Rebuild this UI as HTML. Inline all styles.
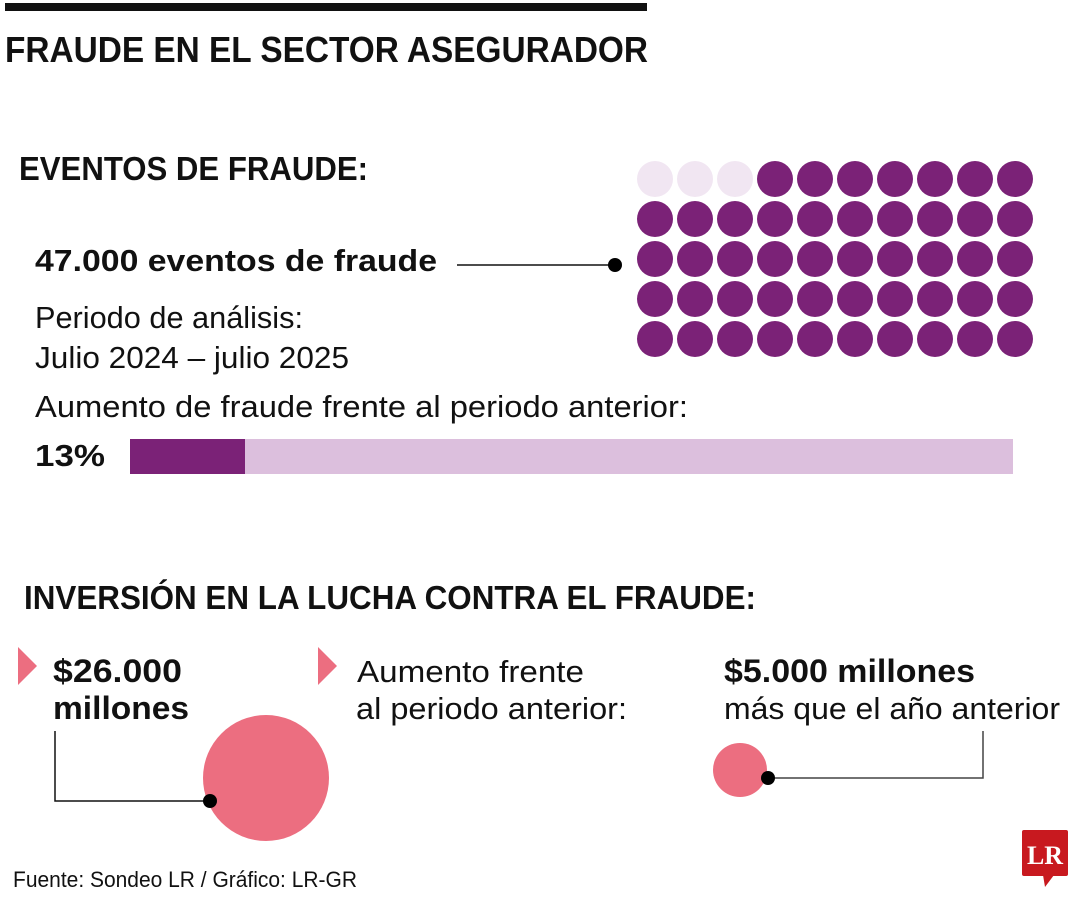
<!DOCTYPE html>
<html><head><meta charset="utf-8"><style>
html,body{margin:0;padding:0;background:#fff;width:1080px;height:900px;overflow:hidden}
svg{display:block}
text{font-family:"Liberation Sans",sans-serif;fill:#111}
.b{font-weight:bold}
</style></head><body>
<svg width="1080" height="900" viewBox="0 0 1080 900">
<rect x="5" y="3" width="642" height="8" fill="#111"/>
<text class="b" x="5" y="62" font-size="36" textLength="643" lengthAdjust="spacingAndGlyphs">FRAUDE EN EL SECTOR ASEGURADOR</text>
<text class="b" x="19" y="180" font-size="33" textLength="349" lengthAdjust="spacingAndGlyphs">EVENTOS DE FRAUDE:</text>
<text class="b" x="35" y="271" font-size="31" textLength="402" lengthAdjust="spacingAndGlyphs">47.000 eventos de fraude</text>
<line x1="457" y1="265" x2="615" y2="265" stroke="#111" stroke-width="1.5"/>
<circle cx="615" cy="265" r="7" fill="#000"/>
<text x="35" y="328" font-size="31" textLength="268" lengthAdjust="spacingAndGlyphs">Periodo de análisis:</text>
<text x="35" y="368" font-size="31" textLength="314" lengthAdjust="spacingAndGlyphs">Julio 2024 – julio 2025</text>
<text x="35" y="417" font-size="31" textLength="653" lengthAdjust="spacingAndGlyphs">Aumento de fraude frente al periodo anterior:</text>
<text class="b" x="35" y="466" font-size="31" textLength="70" lengthAdjust="spacingAndGlyphs">13%</text>
<rect x="130" y="439" width="115" height="35" fill="#7b2277"/>
<rect x="245" y="439" width="768" height="35" fill="#dcbfdd"/>
<g id="dots"></g>
<text class="b" x="24" y="609" font-size="33" textLength="732" lengthAdjust="spacingAndGlyphs">INVERSIÓN EN LA LUCHA CONTRA EL FRAUDE:</text>
<polygon points="18,647 37,666 18,685" fill="#ec6e80"/>
<polygon points="318,647 337,666 318,685" fill="#ec6e80"/>
<text class="b" x="53" y="682" font-size="32" textLength="129" lengthAdjust="spacingAndGlyphs">$26.000</text>
<text class="b" x="53" y="719" font-size="32" textLength="136" lengthAdjust="spacingAndGlyphs">millones</text>
<text x="357" y="682" font-size="31" textLength="227" lengthAdjust="spacingAndGlyphs">Aumento frente</text>
<text x="356" y="719" font-size="31" textLength="271" lengthAdjust="spacingAndGlyphs">al periodo anterior:</text>
<text class="b" x="724" y="682" font-size="32" textLength="251" lengthAdjust="spacingAndGlyphs">$5.000 millones</text>
<text x="724" y="719" font-size="31" textLength="336" lengthAdjust="spacingAndGlyphs">más que el año anterior</text>
<circle cx="266" cy="778" r="63" fill="#ec6e80"/>
<polyline points="55,731 55,801 210,801" fill="none" stroke="#111" stroke-width="1.5"/>
<circle cx="210" cy="801" r="7" fill="#000"/>
<circle cx="740" cy="770" r="27" fill="#ec6e80"/>
<polyline points="768,778 983,778 983,731" fill="none" stroke="#444" stroke-width="1.5"/>
<circle cx="768" cy="778" r="7" fill="#000"/>
<text x="13" y="887" font-size="22" fill="#222" textLength="344" lengthAdjust="spacingAndGlyphs">Fuente: Sondeo LR / Gráfico: LR-GR</text>
<rect x="1022" y="830" width="46" height="46" rx="2" fill="#c8191f"/>
<polygon points="1043,875 1054,875 1045,887" fill="#c8191f"/>
<text x="1045" y="864" font-size="26" font-weight="bold" text-anchor="middle" style="font-family:'Liberation Serif',serif;fill:#fff" textLength="36" lengthAdjust="spacingAndGlyphs">LR</text>
</svg>
<script>
var g=document.getElementById('dots'),s='';
for(var r=0;r<5;r++)for(var c=0;c<10;c++){
var col=(r==0&&c<3)?'#f1e6f2':'#7b2277';
s+='<circle cx="'+(655+c*40)+'" cy="'+(179+r*40)+'" r="18" fill="'+col+'"/>';}
g.innerHTML=s;
</script>
</body></html>
